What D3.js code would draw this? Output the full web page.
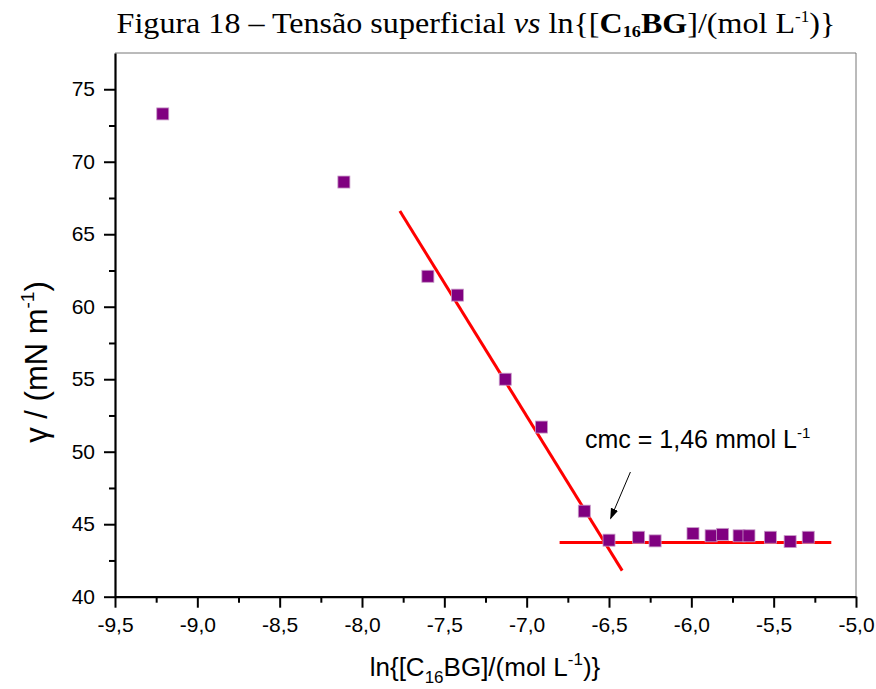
<!DOCTYPE html>
<html>
<head>
<meta charset="utf-8">
<script src="https://cdn.jsdelivr.net/npm/d3@7"></script>
<style>
  body { margin: 0; background: #fff; }
  svg { display: block; }
  .tick text { font-family: Arial, "Liberation Sans", sans-serif; font-size: 21px; fill: #000; }
</style>
</head>
<body>
<div id="chart"></div>
<script>
// measured surface tension points
const lnConc = [-9.21, -8.11, -7.60, -7.42, -7.13, -6.91, -6.65, -6.50, -6.32, -6.22, -5.99, -5.88, -5.81, -5.71, -5.65, -5.52, -5.40, -5.29];
const gamma = [73.3, 68.6, 62.1, 60.8, 55.0, 51.7, 45.9, 43.9, 44.1, 43.85, 44.35, 44.2, 44.3, 44.2, 44.2, 44.1, 43.8, 44.1];

// fitted lines (end points)
const fitSteep = [[-7.77, 66.6], [-6.42, 41.8]];
const fitFlat = [[-6.80, 43.73], [-5.15, 43.73]];

// annotation arrow
const arrowPts = [[-6.37, 48.6], [-6.49, 45.4]];

const xTicks = [-9.5, -9.0, -8.5, -8.0, -7.5, -7.0, -6.5, -6.0, -5.5, -5.0];
const yTicks = [40, 45, 50, 55, 60, 65, 70, 75];

const width = 876;
const height = 689;
const margin = { top: 53, right: 20, bottom: 92, left: 115 };

const svg = d3.select("#chart")
	.append("svg")
	.attr("width", width)
	.attr("height", height)
	.attr("viewBox", `0 0 ${width} ${height}`);

const xScale = d3.scaleLinear()
	.domain([-9.5, -5.0])
	.range([margin.left, 856]);

const yScale = d3.scaleLinear()
	.domain([40, 77.5])
	.range([596.7, margin.top]);

const fmtX = (d) => d3.format(".1f")(d).replace(".", ",").replace("−", "-");

// frame top / right
svg.append("line")
	.attr("x1", xScale(-9.5)).attr("x2", xScale(-5.0))
	.attr("y1", yScale(77.5)).attr("y2", yScale(77.5))
	.attr("stroke", "#777").attr("stroke-width", 1);
svg.append("line")
	.attr("x1", xScale(-5.0)).attr("x2", xScale(-5.0))
	.attr("y1", yScale(77.5)).attr("y2", yScale(40))
	.attr("stroke", "#777").attr("stroke-width", 1);

// minor ticks
const xMinor = d3.range(-9.25, -5.0, 0.5);
const yMinor = d3.range(42.5, 77.5, 5);

svg.append("g")
	.attr("transform", `translate(0 ${yScale(40)})`)
	.call(d3.axisBottom(xScale).tickValues(xMinor).tickSize(6).tickFormat(""))
	.call((g) => g.select(".domain").remove())
	.selectAll("line").attr("stroke-width", 2);

svg.append("g")
	.attr("transform", `translate(${xScale(-9.5)} 0)`)
	.call(d3.axisLeft(yScale).tickValues(yMinor).tickSize(6).tickFormat(""))
	.call((g) => g.select(".domain").remove())
	.selectAll("line").attr("stroke-width", 2);

// main axes
const xAxis = svg.append("g")
	.attr("transform", `translate(0 ${yScale(40)})`)
	.call(d3.axisBottom(xScale).tickValues(xTicks).tickSize(11).tickSizeOuter(0).tickPadding(9).tickFormat(fmtX));
xAxis.select(".domain").attr("stroke-width", 2.2);
xAxis.selectAll(".tick line").attr("stroke-width", 2);

const yAxis = svg.append("g")
	.attr("transform", `translate(${xScale(-9.5)} 0)`)
	.call(d3.axisLeft(yScale).tickValues(yTicks).tickSize(11).tickSizeOuter(0).tickPadding(9));
yAxis.select(".domain").attr("stroke-width", 2.2);
yAxis.selectAll(".tick line").attr("stroke-width", 2);

// fit lines
const line = d3.line().x((d) => xScale(d[0])).y((d) => yScale(d[1]));
[fitSteep, fitFlat].forEach((pts) => {
	svg.append("path")
		.attr("d", line(pts))
		.attr("fill", "none")
		.attr("stroke", "#ff0000")
		.attr("stroke-width", 3);
});

// data markers
const size = 12;
svg.append("g")
	.selectAll("rect")
	.data(lnConc.map((x, i) => [x, gamma[i]]))
	.join("rect")
	.attr("x", (d) => xScale(d[0]) - size / 2)
	.attr("y", (d) => yScale(d[1]) - size / 2)
	.attr("width", size)
	.attr("height", size)
	.attr("fill", "#800080")
	.attr("stroke", "#c89ac8")
	.attr("stroke-width", 0.8);

// arrow
svg.append("defs").append("marker")
	.attr("id", "head")
	.attr("viewBox", "0 0 10 10")
	.attr("refX", 9).attr("refY", 5)
	.attr("markerWidth", 11).attr("markerHeight", 11)
	.attr("markerUnits", "userSpaceOnUse")
	.attr("orient", "auto")
	.append("path")
	.attr("d", "M0,1.5 L10,5 L0,8.5 Z")
	.attr("fill", "#000");

svg.append("path")
	.attr("d", line(arrowPts))
	.attr("stroke", "#000")
	.attr("stroke-width", 1)
	.attr("marker-end", "url(#head)");

// annotation text
const ann = svg.append("text")
	.attr("x", 585)
	.attr("y", 448)
	.attr("font-family", "Arial, 'Liberation Sans', sans-serif")
	.attr("font-size", 25);
ann.append("tspan").text("cmc = 1,46 mmol L");
ann.append("tspan").attr("dy", -10).attr("font-size", 15).text("-1");

// title (slightly stretched like the original scan)
const title = svg.append("text")
	.attr("transform", "translate(476 33) scale(1.07 1)")
	.attr("text-anchor", "middle")
	.attr("font-family", "'Times New Roman', 'Liberation Serif', Times, serif")
	.attr("font-size", 30);
title.append("tspan").text("Figura 18 – Tensão superficial ");
title.append("tspan").attr("font-style", "italic").text("vs");
title.append("tspan").text(" ln{[");
title.append("tspan").attr("font-weight", "bold").text("C");
title.append("tspan").attr("font-weight", "bold").attr("font-size", 17).attr("dy", 4).text("16");
title.append("tspan").attr("font-weight", "bold").attr("dy", -4).text("BG");
title.append("tspan").text("]/(mol L");
title.append("tspan").attr("font-size", 16).attr("dy", -11).text("-1");
title.append("tspan").attr("dy", 11).text(")}");

// x label
const xLabel = svg.append("text")
	.attr("x", 485)
	.attr("y", 676)
	.attr("text-anchor", "middle")
	.attr("font-family", "Arial, 'Liberation Sans', sans-serif")
	.attr("font-size", 26);
xLabel.append("tspan").text("ln{[C");
xLabel.append("tspan").attr("font-size", 17).attr("dy", 7).text("16");
xLabel.append("tspan").attr("dy", -7).text("BG]/(mol L");
xLabel.append("tspan").attr("font-size", 17).attr("dy", -11).text("-1");
xLabel.append("tspan").attr("dy", 11).text(")}");

// y label
const yLabel = svg.append("text")
	.attr("transform", `translate(47 362) rotate(-90)`)
	.attr("text-anchor", "middle")
	.attr("font-family", "Arial, 'Liberation Sans', sans-serif")
	.attr("font-size", 31);
yLabel.append("tspan").text("γ / (mN m");
yLabel.append("tspan").attr("font-size", 19).attr("dy", -13).text("-1");
yLabel.append("tspan").attr("dy", 13).text(")");
</script>
</body>
</html>
